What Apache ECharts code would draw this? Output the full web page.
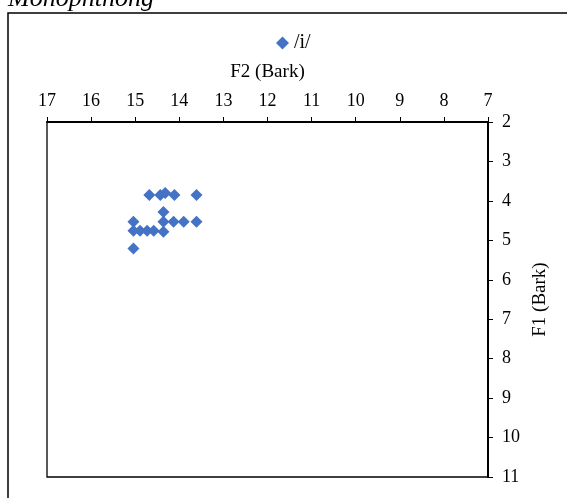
<!DOCTYPE html>
<html>
<head>
<meta charset="utf-8">
<script src="https://cdn.jsdelivr.net/npm/echarts@6/dist/echarts.min.js"></script>
<style>
  html, body { margin: 0; padding: 0; background: #fff; }
  #chart { width: 567px; height: 498px; }
</style>
</head>
<body>
<div id="chart"></div>
<script>
// F2 / F1 values (Bark) for /i/
const f2 = [14.68, 14.43, 14.32, 14.11, 13.61, 14.36, 15.04, 14.36, 14.13, 13.90, 13.61, 15.04, 14.89, 14.73, 14.58, 14.36, 15.04];
const f1 = [3.85, 3.85, 3.80, 3.85, 3.85, 4.28, 4.53, 4.53, 4.53, 4.53, 4.53, 4.76, 4.76, 4.76, 4.76, 4.78, 5.21];
const seriesName = '/i/';

const serif = '"Liberation Serif", "DejaVu Serif", serif';
const chart = echarts.init(document.getElementById('chart'));

const points = f2.map((v, i) => [v, f1[i]]);

chart.setOption({
  animation: false,
  graphic: [
    {
      type: 'rect',
      shape: { x: 8, y: 13, width: 700, height: 700 },
      style: { fill: 'none', stroke: '#000', lineWidth: 1.5 }
    },
    {
      type: 'text',
      left: 8,
      top: -14,
      style: { text: 'Monophthong', font: 'italic 26px ' + serif, fill: '#000' }
    }
  ],
  legend: {
    data: [seriesName],
    left: 271,
    top: 28,
    itemWidth: 13,
    itemHeight: 13,
    textStyle: { color: '#000', fontSize: 20, fontFamily: serif }
  },
  grid: {
    left: 47, right: 79, top: 122, bottom: 21,
    outerBoundsMode: 'none',
    show: true,
    borderColor: '#000',
    borderWidth: 1.3,
    backgroundColor: 'transparent'
  },
  xAxis: {
    type: 'value',
    position: 'top',
    inverse: true,
    min: 7, max: 17, interval: 1,
    name: 'F2 (Bark)',
    nameLocation: 'middle',
    nameGap: 40,
    nameTextStyle: { color: '#000', fontSize: 19, fontFamily: serif },
    axisLine: { show: true, onZero: false, lineStyle: { color: '#000', width: 2 } },
    axisTick: { show: true, inside: false, length: 5, lineStyle: { color: '#000' } },
    axisLabel: { color: '#000', fontSize: 18, fontFamily: serif, margin: 12 },
    splitLine: { show: false }
  },
  yAxis: {
    type: 'value',
    position: 'right',
    inverse: true,
    min: 2, max: 11, interval: 1,
    name: 'F1 (Bark)',
    nameLocation: 'middle',
    nameRotate: 90,
    nameGap: 37,
    nameTextStyle: { color: '#000', fontSize: 19, fontFamily: serif },
    axisLine: { show: true, onZero: false, lineStyle: { color: '#000', width: 2 } },
    axisTick: { show: true, inside: false, length: 5, lineStyle: { color: '#000' } },
    axisLabel: { color: '#000', fontSize: 18, fontFamily: serif, margin: 14 },
    splitLine: { show: false }
  },
  series: [
    {
      name: seriesName,
      type: 'scatter',
      symbol: 'diamond',
      symbolSize: 12,
      itemStyle: { color: '#4472C4', opacity: 1 },
      data: points
    }
  ]
});
</script>
</body>
</html>
